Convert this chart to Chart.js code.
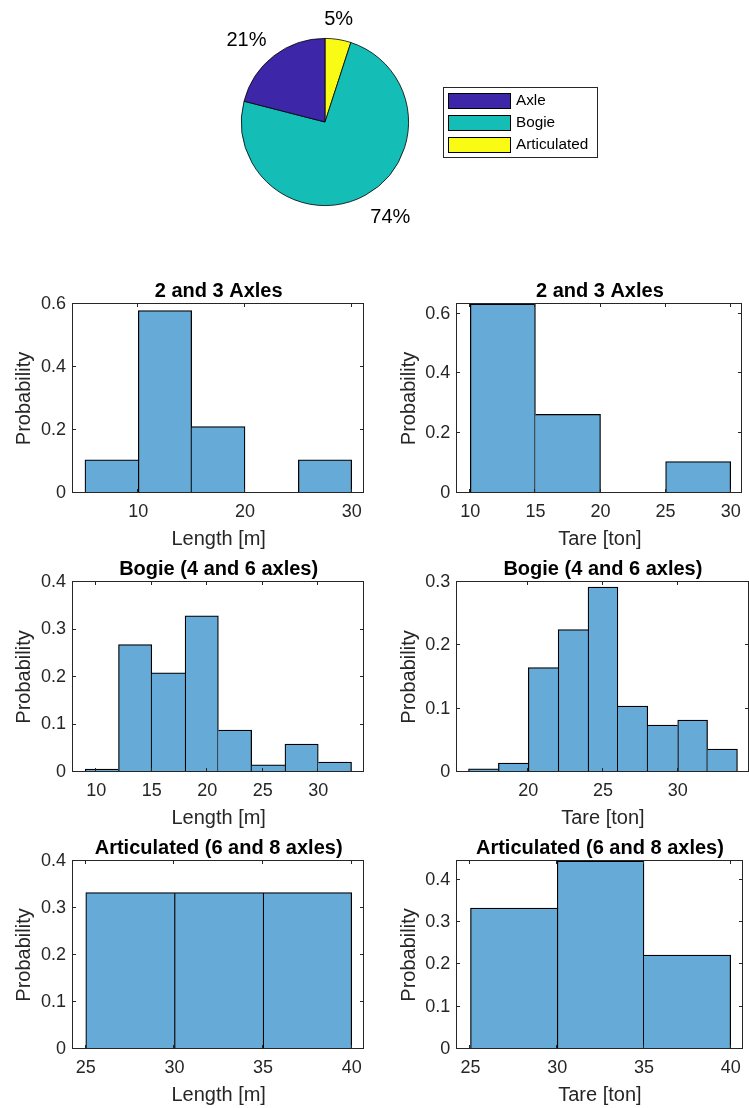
<!DOCTYPE html>
<html>
<head>
<meta charset="utf-8">
<script src="https://cdn.jsdelivr.net/npm/chart.js@4"></script>
<style>
html,body{margin:0;padding:0;background:#fff;}
body{width:749px;height:1108px;position:relative;overflow:hidden;}
canvas{position:absolute;display:block;}
</style>
</head>
<body>
<canvas id="pie" width="460" height="250" style="left:180px;top:0px;width:460px;height:250px"></canvas>
<canvas id="h1" width="374" height="272" style="left:0px;top:279px;width:374px;height:272px"></canvas>
<canvas id="h2" width="374" height="272" style="left:375px;top:279px;width:374px;height:272px"></canvas>
<canvas id="h3" width="374" height="273" style="left:0px;top:557px;width:374px;height:273px"></canvas>
<canvas id="h4" width="374" height="273" style="left:375px;top:557px;width:374px;height:273px"></canvas>
<canvas id="h5" width="374" height="271" style="left:0px;top:836px;width:374px;height:271px"></canvas>
<canvas id="h6" width="374" height="271" style="left:375px;top:836px;width:374px;height:271px"></canvas>
<script>
// ---------------- DATA ----------------
const pieCategories = ['Axle', 'Bogie', 'Articulated'];
const pieShares = [21, 74, 5];

const titles = ['2 and 3 Axles', '2 and 3 Axles', 'Bogie (4 and 6 axles)', 'Bogie (4 and 6 axles)', 'Articulated (6 and 8 axles)', 'Articulated (6 and 8 axles)'];
const xLabels = ['Length [m]', 'Tare [ton]', 'Length [m]', 'Tare [ton]', 'Length [m]', 'Tare [ton]'];
const yLabel = 'Probability';

const axlesLengthEdges = [5, 10, 15, 20, 25, 30];
const axlesLengthProb  = [0.105, 0.579, 0.211, 0, 0.105];
const axlesTareEdges   = [10, 15, 20, 25, 30];
const axlesTareProb    = [0.632, 0.263, 0, 0.105];
const bogieLengthEdges = [9, 12, 15, 18, 21, 24, 27, 30, 33];
const bogieLengthProb  = [0.006, 0.268, 0.209, 0.329, 0.088, 0.015, 0.059, 0.021];
const bogieTareEdges   = [16, 18, 20, 22, 24, 26, 28, 30, 32, 34];
const bogieTareProb    = [0.005, 0.014, 0.165, 0.225, 0.292, 0.104, 0.074, 0.082, 0.036];
const artLengthEdges   = [25, 30, 35, 40];
const artLengthProb    = [0.333, 0.333, 0.333];
const artTareEdges     = [25, 30, 35, 40];
const artTareProb      = [0.333, 0.444, 0.222];

const xRanges = [[3.88, 31.18], [9.0, 30.9], [7.9, 34.15], [15.25, 34.74], [24.28, 40.71], [24.24, 40.68]];
const yRanges = [[0, 0.6], [0, 0.632], [0, 0.4], [0, 0.3], [0, 0.4], [0, 0.444]];
const xTicks = [[10, 20, 30], [10, 15, 20, 25, 30], [10, 15, 20, 25, 30], [20, 25, 30], [25, 30, 35, 40], [25, 30, 35, 40]];
const yTicks = [[0, 0.2, 0.4, 0.6], [0, 0.2, 0.4, 0.6], [0, 0.1, 0.2, 0.3, 0.4], [0, 0.1, 0.2, 0.3], [0, 0.1, 0.2, 0.3, 0.4], [0, 0.1, 0.2, 0.3, 0.4]];

// ---------------- STYLE ----------------
const FONT = "'Liberation Sans', Arial, Helvetica, sans-serif";
const AXIS = '#262626';
const BAR_FILL = 'rgb(102,170,215)';
const BAR_EDGE = '#000';
const PIE_COLORS = {Axle: 'rgb(62,38,168)', Bogie: 'rgb(20,190,183)', Articulated: 'rgb(249,251,20)'};

Chart.defaults.font.family = FONT;
Chart.defaults.color = AXIS;

// ---------------- PIE ----------------
// MATLAB draws slices counter-clockwise from 12 o'clock; Chart.js goes clockwise,
// so the arrays are fed in reverse order.
const pieOrder = pieCategories.slice().reverse();
const pieValues = pieShares.slice().reverse();

const pieTextPlugin = {
  id: 'pieText',
  afterDatasetsDraw(chart) {
    const ctx = chart.ctx;
    const meta = chart.getDatasetMeta(0);
    const vals = chart.data.datasets[0].data;
    ctx.save();
    ctx.font = '20px ' + FONT;
    ctx.fillStyle = '#000';
    ctx.textBaseline = 'middle';
    meta.data.forEach((arc, i) => {
      const p = arc.getProps(['x', 'y', 'startAngle', 'endAngle', 'outerRadius'], true);
      const mid = (p.startAngle + p.endAngle) / 2;
      const c = Math.cos(mid), s = Math.sin(mid);
      const r = p.outerRadius * 1.2;
      ctx.textAlign = c > 0.3 ? 'left' : (c < -0.3 ? 'right' : 'center');
      const dx = c > 0.3 ? -3 : (c < -0.3 ? 3 : -2);
      ctx.fillText(vals[i] + '%', p.x + c * r + dx, p.y + s * r + s * 6 + 2);
    });
    ctx.restore();
  },
  afterDraw(chart) {
    // boxed legend, in MATLAB order
    const ctx = chart.ctx;
    const bx = 262.7, by = 86.7, bw = 154, bh = 70;
    ctx.save();
    ctx.fillStyle = '#fff';
    ctx.fillRect(bx, by, bw, bh);
    ctx.strokeStyle = '#262626';
    ctx.lineWidth = 1;
    ctx.strokeRect(Math.round(bx) + 0.5, Math.round(by) + 0.5, Math.round(bw), Math.round(bh));
    ctx.font = '15.3px ' + FONT;
    ctx.textBaseline = 'middle';
    ctx.textAlign = 'left';
    pieCategories.forEach((name, k) => {
      const idx = chart.data.labels.indexOf(name);
      const col = chart.data.datasets[0].backgroundColor[idx];
      const cy = 100.5 + k * 21.8;
      ctx.fillStyle = col;
      ctx.fillRect(268.5, Math.round(cy - 7.5), 62, 15);
      ctx.strokeStyle = '#000';
      ctx.strokeRect(268.5, Math.round(cy - 7.5) + 0.5, 62, 15);
      ctx.fillStyle = '#000';
      ctx.fillText(name, 336, cy + 0.5);
    });
    ctx.restore();
  }
};

new Chart(document.getElementById('pie'), {
  type: 'pie',
  data: {
    labels: pieOrder,
    datasets: [{
      data: pieValues,
      backgroundColor: pieOrder.map(n => PIE_COLORS[n]),
      borderColor: '#000',
      borderWidth: 0.8
    }]
  },
  options: {
    responsive: false,
    animation: false,
    rotation: 0,
    layout: {padding: {left: 61, top: 38, right: 231, bottom: 44}},
    plugins: {legend: {display: false}, tooltip: {enabled: false}}
  },
  plugins: [pieTextPlugin]
});

// ---------------- HISTOGRAMS ----------------
const boxPlugin = {
  id: 'matlabBox',
  afterDatasetsDraw(chart) {
    const ctx = chart.ctx;
    const {left, right, top, bottom} = chart.chartArea;
    const L = Math.round(left) - 0.5, R = Math.round(right) - 0.5;
    const T = Math.round(top) - 0.5, B = Math.round(bottom) - 0.5;
    ctx.save();
    ctx.strokeStyle = AXIS;
    ctx.lineWidth = 1;
    ctx.strokeRect(L, T, R - L, B - T);
    const tl = 3.5;
    ctx.beginPath();
    chart.scales.x.ticks.forEach(t => {
      const px = Math.round(chart.scales.x.getPixelForValue(t.value)) - 0.5;
      ctx.moveTo(px, B); ctx.lineTo(px, B - tl);
      ctx.moveTo(px, T); ctx.lineTo(px, T + tl);
    });
    chart.scales.y.ticks.forEach(t => {
      const py = Math.round(chart.scales.y.getPixelForValue(t.value)) - 0.5;
      ctx.moveTo(L, py); ctx.lineTo(L + tl, py);
      ctx.moveTo(R, py); ctx.lineTo(R - tl, py);
    });
    ctx.stroke();
    ctx.restore();
  }
};

const hists = [
  [axlesLengthEdges, axlesLengthProb],
  [axlesTareEdges, axlesTareProb],
  [bogieLengthEdges, bogieLengthProb],
  [bogieTareEdges, bogieTareProb],
  [artLengthEdges, artLengthProb],
  [artTareEdges, artTareProb]
];

function edgeWidths(ctx) {
  const i = ctx.dataIndex;
  const d = ctx.dataset.data;
  const h = d[i].y;
  if (!h) return 0;
  const prev = i > 0 ? d[i - 1].y : -1;
  const next = i < d.length - 1 ? d[i + 1].y : -1;
  const w = 1.25;
  return {top: w, bottom: 0, left: prev <= h ? w : 0, right: next < h ? w : 0};
}

hists.forEach(([edges, probs], k) => {
  const rightCol = k % 2 === 1;
  const yW = rightCol ? 82.3 : 73;
  const padRight = rightCol ? 0.5 : 9.7;
  const titlePadTop = rightCol ? 22.3 : 12;
  const pts = probs.map((p, i) => ({x: (edges[i] + edges[i + 1]) / 2, y: p}));
  new Chart(document.getElementById('h' + (k + 1)), {
    type: 'bar',
    data: {
      datasets: [{
        data: pts,
        backgroundColor: BAR_FILL,
        borderColor: BAR_EDGE,
        borderWidth: edgeWidths,
        borderSkipped: false,
        barPercentage: 1,
        categoryPercentage: 1
      }]
    },
    options: {
      responsive: false,
      animation: false,
      layout: {padding: {left: 0, top: 0, right: padRight, bottom: 0}},
      plugins: {
        legend: {display: false},
        tooltip: {enabled: false},
        title: {
          display: true,
          text: titles[k],
          fullSize: false,
          color: '#000',
          font: {size: 20, weight: 'bold', family: FONT, lineHeight: 1.2},
          padding: {top: 0, bottom: 1}
        }
      },
      scales: {
        x: {
          type: 'linear',
          offset: false,
          min: xRanges[k][0],
          max: xRanges[k][1],
          grid: {display: false, drawTicks: false},
          border: {display: false},
          afterBuildTicks: s => { s.ticks = xTicks[k].map(v => ({value: v})); },
          afterFit: s => { s.height = 58; },
          ticks: {
            color: AXIS,
            padding: 8,
            maxRotation: 0,
            font: {size: 18, family: FONT, lineHeight: 1.2},
            callback: v => String(+(+v).toFixed(3))
          },
          title: {
            display: true,
            text: xLabels[k],
            color: AXIS,
            font: {size: 20, family: FONT, lineHeight: 1.2},
            padding: {top: 0, bottom: 0}
          }
        },
        y: {
          type: 'linear',
          min: yRanges[k][0],
          max: yRanges[k][1],
          grid: {display: false, drawTicks: false},
          border: {display: false},
          afterBuildTicks: s => { s.ticks = yTicks[k].map(v => ({value: v})); },
          afterFit: s => { s.width = yW; },
          ticks: {
            color: AXIS,
            padding: 7,
            font: {size: 18, family: FONT, lineHeight: 1.2},
            callback: v => String(+(+v).toFixed(3))
          },
          title: {
            display: true,
            text: yLabel,
            color: AXIS,
            font: {size: 20, family: FONT, lineHeight: 1.2},
            padding: {top: titlePadTop, bottom: 0}
          }
        }
      }
    },
    plugins: [boxPlugin]
  });
});
</script>
</body>
</html>
